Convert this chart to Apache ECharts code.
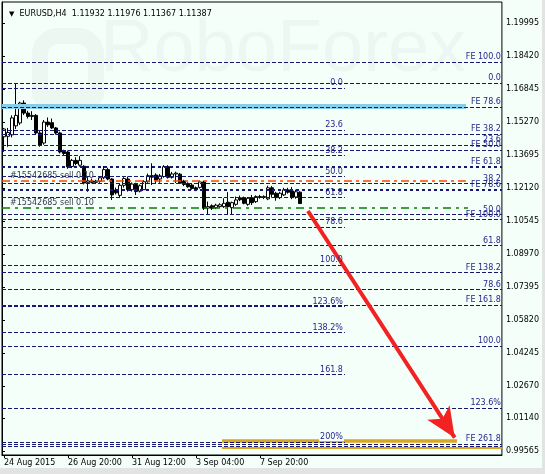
<!DOCTYPE html>
<html><head><meta charset="utf-8">
<script src="https://cdn.jsdelivr.net/npm/echarts@6/dist/echarts.min.js"></script>
<style>html,body{margin:0;padding:0;background:#e2e4e3;} #c{width:542px;height:468px;background:#F5FFFA;}</style>
</head><body><div id="c"></div>
<script>
// ---------- data ----------
const symbolName = 'EURUSD,H4';
const slotCount = 125;                       // visible H4 slots on the time axis
const timeTickIndex = [0, 16, 32, 48, 64];
const timeTickLabels = ['24 Aug 2015', '26 Aug 20:00', '31 Aug 12:00', '3 Sep 04:00', '7 Sep 20:00'];

const open  = [1.1458,1.1460,1.1467,1.1510,1.1524,1.1619,1.1571,1.1555,1.1560,1.1476,1.1428,1.1528,1.1525,1.1500,1.1476,1.1388,1.1385,1.1316,1.1345,1.1322,
               1.1317,1.1240,1.1247,1.1240,1.1245,1.1262,1.1301,1.1256,1.1204,1.1178,1.1226,1.1256,1.1205,1.1230,1.1198,1.1205,1.1243,1.1272,1.1275,1.1256,
               1.1268,1.1315,1.1264,1.1280,1.1279,1.1246,1.1235,1.1227,1.1214,1.1216,1.1242,1.1117,1.1128,1.1119,1.1124,1.1124,1.1145,1.1119,1.1135,1.1166,
               1.1167,1.1135,1.1167,1.1148,1.1172,1.1168,1.1161,1.1214,1.1188,1.1167,1.1180,1.1204,1.1199,1.1170,1.11932];
const high  = [1.1500,1.1500,1.1560,1.1714,1.1625,1.1632,1.1582,1.1580,1.1566,1.1485,1.1538,1.1550,1.1545,1.1505,1.1482,1.1396,1.1392,1.1352,1.1360,1.1365,
               1.1322,1.1266,1.1258,1.1252,1.1268,1.1318,1.1310,1.1260,1.1215,1.1232,1.1265,1.1268,1.1240,1.1238,1.1230,1.1250,1.1282,1.1331,1.1283,1.1280,
               1.1322,1.1322,1.1290,1.1291,1.1285,1.1252,1.1240,1.1232,1.1220,1.1248,1.1248,1.1148,1.1135,1.1138,1.1140,1.1164,1.1193,1.1148,1.1172,1.1177,
               1.1172,1.1170,1.1180,1.1178,1.1180,1.1178,1.1224,1.1222,1.1195,1.1195,1.1214,1.1214,1.1218,1.1205,1.11976];
const low   = [1.1386,1.1410,1.1455,1.1495,1.1515,1.1562,1.1545,1.1538,1.1470,1.1410,1.1420,1.1505,1.1495,1.1468,1.1378,1.1368,1.1305,1.1308,1.1322,1.1315,
               1.1230,1.1195,1.1235,1.1232,1.1238,1.1255,1.1250,1.1156,1.1182,1.1165,1.1215,1.1196,1.1196,1.1180,1.1192,1.1205,1.1238,1.1227,1.1232,1.1238,
               1.1262,1.1258,1.1258,1.1237,1.1232,1.1222,1.1214,1.1205,1.1198,1.1210,1.1108,1.1087,1.1108,1.1112,1.1118,1.1118,1.1087,1.1087,1.1128,1.1150,
               1.1135,1.1128,1.1132,1.1142,1.1162,1.1160,1.1155,1.1167,1.1152,1.1160,1.1175,1.1186,1.1160,1.1162,1.11367];
const close = [1.1495,1.1478,1.1548,1.1560,1.1619,1.1571,1.1555,1.1560,1.1476,1.1419,1.1528,1.1515,1.1500,1.1476,1.1385,1.1378,1.1314,1.1345,1.1330,1.1345,
               1.1237,1.1247,1.1240,1.1246,1.1262,1.1301,1.1256,1.1180,1.1190,1.1226,1.1258,1.1205,1.1232,1.1196,1.1224,1.1243,1.1272,1.1265,1.1251,1.1271,
               1.1315,1.1264,1.1280,1.1284,1.1236,1.1230,1.1219,1.1211,1.1205,1.1242,1.1116,1.1124,1.1116,1.1131,1.1133,1.1140,1.1124,1.1143,1.1156,1.1157,
               1.1140,1.1164,1.1143,1.1172,1.1168,1.1172,1.1214,1.1183,1.1167,1.1188,1.1204,1.1193,1.1167,1.1195,1.11387];

const priceMin = 0.99374, priceMax = 1.21017;
const priceTicks = [1.19995,1.18420,1.16845,1.15270,1.13695,1.12120,1.10545,1.08970,1.07395,1.05820,1.04245,1.02670,1.01140,0.99565];

// Fibonacci retracement drawn from 24 Aug (labels mid-chart)
const retrAPrices = [1.1691,1.1491,1.1368,1.1268,1.1168,1.1026,1.0845,1.0646,1.0522,1.0322,0.9999];
const retrALabels = ['0.0','23.6','38.2','50.0','61.8','78.6','100.0','123.6%','138.2%','161.8','200%'];
const retrAEnd = 85.75;
// Fibonacci retracement with labels at the right edge
const retrBPrices = [1.1713,1.1417,1.1234,1.1086,1.0938,1.0727,1.0458,1.0162,0.9979];
const retrBLabels = ['0.0','23.6','38.2','50.0','61.8','78.6','100.0','123.6%',''];
// Fibonacci expansions
const feUpPrices = [1.1815,1.1600];
const feUpLabels = ['FE 100.0','FE 78.6'];
const fePrices = [1.1471,1.1393,1.1315,1.1204,1.1062,1.0809,1.0653,0.9991];
const feLabels = ['FE 38.2','FE 50.0','FE 61.8','FE 78.6','FE 100.0','FE 138.2','FE 161.8','FE 261.8'];
// other objects
const bluePrice = 1.1602, blueEnd = 116;
const orderText = '#15542685 sell 0.10';
const stopPrice = 1.1249, stopEnd = 116;
const openPrice = 1.1118, openEnd = 116.5;
const goldTop = 1.0006, goldBottom = 0.9972, goldStart = 55, goldTopEnd = 113.75;
const arrowFrom = [76.5, 1.1103], arrowTo = [113.2, 1.0020];

// ---------- chart ----------
const FONT = "'DejaVu Sans',Verdana,sans-serif";
const FS = 8;
const NAVY = '#16166e', LABEL = '#1f1f8a', BG = '#F5FFFA';
const last = close.length - 1;
const candles = open.map((o, i) => [o, close[i], low[i], high[i]]);
const heavy = ['FE 61.8', 'FE 78.6'];

function hline(p, x0, x1, text, pos, opts) {
  opts = opts || {};
  return [{
    coord: [x0, p],
    lineStyle: Object.assign({ color: NAVY, width: 1, type: [4, 2] }, opts.line || {}),
    label: Object.assign({ show: !!text, formatter: text || '', position: pos, color: LABEL,
      fontSize: FS, fontFamily: FONT, distance: 1 }, opts.label || {})
  }, { coord: [x1, p] }];
}

function markerSeries(z, lines, extra) {
  return Object.assign({
    type: 'line', xAxisIndex: 1, yAxisIndex: 0, data: [], z: z, silent: true,
    markLine: { symbol: ['none', 'none'], silent: true, animation: false, data: lines }
  }, extra || {});
}

const chart = echarts.init(document.getElementById('c'), null, { renderer: 'canvas' });
chart.setOption({
  animation: false,
  backgroundColor: BG,
  title: {
    text: '{t|▼}  ' + symbolName + '  ' + [open[last], high[last], low[last], close[last]].map(v => v.toFixed(5)).join(' '),
    left: 4, top: 5,
    textStyle: { fontSize: FS, fontWeight: 'normal', color: '#000', fontFamily: FONT,
      rich: { t: { fontSize: 7, color: '#000' } } }
  },
  graphic: [
    { type: 'text', left: 100, top: 14, z: -10, silent: true,
      style: { text: 'RoboForex', font: 'normal 74px "Liberation Sans"', fill: 'rgba(20,60,60,0.045)' } },
    { type: 'rect', left: 32, top: 28, z: -10, silent: true,
      shape: { width: 56, height: 62, r: [18, 18, 4, 4] },
      style: { fill: 'none', stroke: 'rgba(20,60,60,0.04)', lineWidth: 16 } }
  ],
  grid: { left: 2, top: 2, right: 40, bottom: 13, show: true, borderColor: '#000', borderWidth: 1, backgroundColor: 'transparent' },
  xAxis: [{
    type: 'category', data: Array.from({ length: slotCount }, (_, i) => i), boundaryGap: true,
    axisLine: { lineStyle: { color: '#000' } },
    axisTick: { show: true, alignWithLabel: true, length: 3, lineStyle: { color: '#000' },
      interval: (i) => timeTickIndex.includes(i) },
    axisLabel: { interval: (i) => timeTickIndex.includes(i), align: 'left', margin: 4,
      formatter: (v, i) => timeTickLabels[timeTickIndex.indexOf(i)] || '',
      color: '#000', fontSize: FS, fontFamily: FONT },
    splitLine: { show: false }
  }, {
    type: 'value', min: 0, max: slotCount, show: false
  }],
  yAxis: {
    type: 'value', position: 'right', min: priceMin, max: priceMax, scale: true,
    axisLine: { show: true, lineStyle: { color: '#000' } },
    axisTick: { show: true, length: 3, customValues: priceTicks, lineStyle: { color: '#000' } },
    axisLabel: { customValues: priceTicks, formatter: v => v.toFixed(5), margin: 4,
      color: '#000', fontSize: FS, fontFamily: FONT },
    splitLine: { show: false }
  },
  series: [
    // gold target zone and blue level
    markerSeries(1, [
      hline(goldTop, goldStart, goldTopEnd, '', 'end', { line: { color: '#DAA520', width: 3.5, type: 'solid' } }),
      hline(goldBottom, goldStart, slotCount, '', 'end', { line: { color: '#DAA520', width: 2, type: 'solid' } }),
      hline(bluePrice, 0, blueEnd, '', 'end', { line: { color: '#87CEEB', width: 5, type: 'solid' } })
    ]),
    // expansions
    markerSeries(2,
      feUpPrices.map((p, i) => hline(p, 0, slotCount, feUpLabels[i], 'insideEndTop'))
      .concat(fePrices.map((p, i) => hline(p, 0, slotCount, feLabels[i], 'insideEndTop',
        heavy.includes(feLabels[i]) ? { line: { width: 2, type: [3, 3] } } : {})))),
    // retracement B
    markerSeries(2, retrBPrices.map((p, i) => hline(p, 0, slotCount, retrBLabels[i], 'insideEndTop'))),
    // order lines
    markerSeries(3, [
      hline(stopPrice, 0, stopEnd, orderText, 'insideStartTop',
        { line: { color: '#FF4500', width: 1.5, type: [8, 4, 3, 4] }, label: { color: '#3a3a4e', padding: [0, 0, 0, 7] } }),
      hline(openPrice, 0, openEnd, orderText, 'insideStartTop',
        { line: { color: '#008000', width: 1.5, type: [8, 5, 3, 5] }, label: { color: '#3a3a4e', padding: [0, 0, 0, 7] } })
    ]),
    // candles
    {
      type: 'candlestick', xAxisIndex: 0, yAxisIndex: 0, data: candles, barWidth: 3, z: 4,
      itemStyle: { color: '#ffffff', color0: '#000000', borderColor: '#000000', borderColor0: '#000000', borderWidth: 1 }
    },
    // retracement A (labels above everything incl. gold)
    markerSeries(5, retrAPrices.map((p, i) => hline(p, 0, retrAEnd, retrALabels[i], 'insideEndTop',
      { label: { backgroundColor: retrALabels[i] === '200%' ? BG : 'transparent', padding: [0, 1, 0, 1] } }))),
    // arrow
    markerSeries(6, [[
      { coord: arrowFrom, lineStyle: { color: '#F22222', width: 4, type: 'solid' }, label: { show: false } },
      { coord: arrowTo }
    ]], {}),
    // current price tag
    markerSeries(7, [{
      yAxis: close[last], lineStyle: { opacity: 0 },
      label: { show: true, position: 'end', distance: 0, formatter: close[last].toFixed(5),
        backgroundColor: '#000', color: '#fff', fontSize: FS, fontFamily: FONT, padding: [3, 8, 2, 4] }
    }])
  ]
});
chart.setOption({ series: [{}, {}, {}, {}, {}, {}, { markLine: { symbol: ['none', 'arrow'], symbolSize: [20, 30] } }, {}] });
</script></body></html>
